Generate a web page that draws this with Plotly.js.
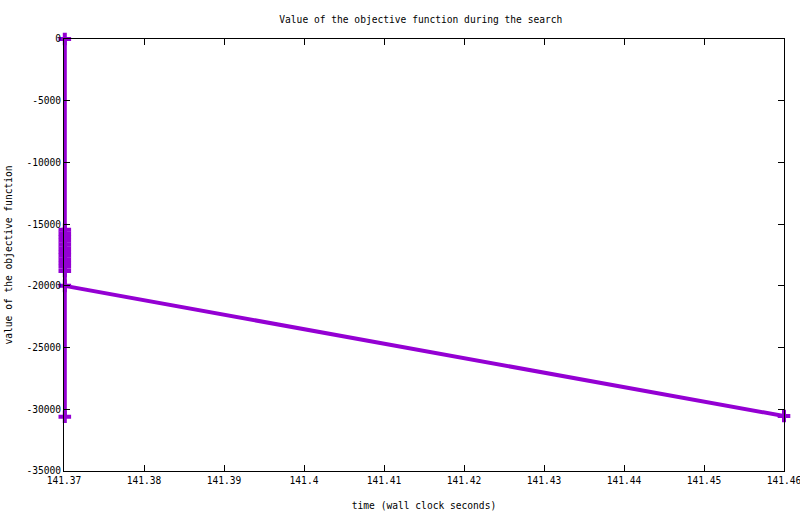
<!DOCTYPE html>
<html>
<head>
<meta charset="utf-8">
<script src="https://cdn.plot.ly/plotly-3.0.1.min.js"></script>
<style>html,body{margin:0;padding:0;background:#fff;}#chart{width:800px;height:514px;}</style>
</head>
<body>
<div id="chart"></div>
<script>
// time (wall clock seconds) of each recorded objective value
var times = [141.3701, 141.3701, 141.3701, 141.3701, 141.3701, 141.3701, 141.3701, 141.3701,
             141.3701, 141.3701, 141.3701, 141.3701, 141.3701, 141.3701, 141.3701, 141.46];
// value of the objective function
var values = [0, -15450, -15750, -16050, -16350, -16650, -16950, -17250,
              -17550, -17850, -18150, -18450, -18800, -30600, -20000, -30550];

var xTickVals = [141.37, 141.38, 141.39, 141.40, 141.41, 141.42, 141.43, 141.44, 141.45, 141.46];
var xTickText = ["141.37", "141.38", "141.39", "141.4", "141.41", "141.42", "141.43", "141.44", "141.45", "141.46"];
var yTickVals = [0, -5000, -10000, -15000, -20000, -25000, -30000, -35000];
var yTickText = ["0", "-5000", "-10000", "-15000", "-20000", "-25000", "-30000", "-35000"];

var font = {family: "DejaVu Sans Mono, monospace", size: 9.6, color: "#000"};

var trace = {
  x: times, y: values, type: "scatter", mode: "lines+markers",
  line: {color: "#9400D3", width: 4},
  marker: {symbol: "cross-thin", size: 9, line: {color: "#9400D3", width: 4}, color: "#9400D3"},
  cliponaxis: false, showlegend: false
};

var axisCommon = {
  showgrid: false, zeroline: false, showline: true, linecolor: "#000", linewidth: 1,
  mirror: "ticks", ticks: "inside", ticklen: 6, tickcolor: "#000", tickfont: font,
  layer: "above traces", ticklabeloverflow: "allow"
};

var layout = {
  width: 800, height: 514,
  margin: {l: 64, r: 16, t: 39, b: 43},
  paper_bgcolor: "#fff", plot_bgcolor: "#fff",
  font: font,
  title: {text: "Value of the objective function during the search", font: font, x: 0.526, xanchor: "center", y: 0.962, yanchor: "middle"},
  xaxis: Object.assign({}, axisCommon, {
    range: [141.37, 141.4600001], tickmode: "array", tickvals: xTickVals, ticktext: xTickText,
    title: {text: "time (wall clock seconds)", font: font, standoff: 17}
  }),
  yaxis: Object.assign({}, axisCommon, {
    range: [-35000, 0], tickmode: "array", tickvals: yTickVals, ticktext: yTickText,
    title: {text: "value of the objective function", font: font, standoff: 12}
  })
};

Plotly.newPlot("chart", [trace], layout, {staticPlot: true, displayModeBar: false});
</script>
</body>
</html>
